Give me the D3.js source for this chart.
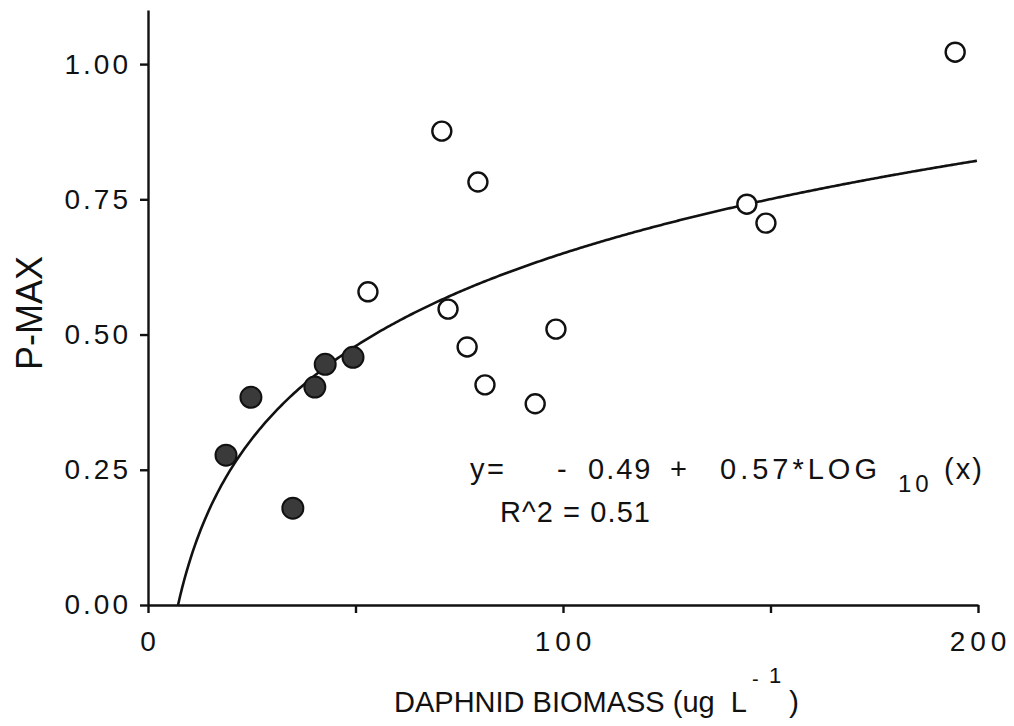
<!DOCTYPE html>
<html>
<head>
<meta charset="utf-8">
<script src="https://cdn.jsdelivr.net/npm/d3@7"></script>
<style>
  body { margin: 0; background: #fff; }
  svg { display: block; }
  text { font-family: "Liberation Sans", Arial, sans-serif; fill: #111; }
  .axis path, .axis line { stroke: #111; stroke-width: 2.4; }
  .axis text { font-size: 28px; }
</style>
</head>
<body>
<div id="viz"></div>
<script>
// Datos
let xCerrados = [18.8, 24.8, 34.9, 40.2, 42.7, 49.4];
let yCerrados = [0.277, 0.384, 0.179, 0.403, 0.445, 0.458];

let xAbiertos = [53.0, 70.8, 72.3, 79.5, 76.9, 81.2, 93.3, 98.3, 144.3, 148.9, 194.5];
let yAbiertos = [0.579, 0.876, 0.547, 0.782, 0.477, 0.407, 0.372, 0.510, 0.741, 0.706, 1.022];

// Coeficientes del ajuste mostrados en el gráfico
let intercepto = -0.49;
let pendiente = 0.57;

let ticksY = [0, 0.25, 0.5, 0.75, 1.0];
let ticksX = [0, 50, 100, 150, 200];
let etiquetasX = [0, 100, 200];

let w = 1014;
let h = 726;

let svg = d3.select('#viz')
    .append('svg')
        .attr('width', w)
        .attr('height', h);

let x = d3.scaleLinear().domain([0, 200]).range([148, 978]);
let y = d3.scaleLinear().domain([0, 1.1]).range([605, 10]);

// Eje Y
svg.append('g')
    .attr('class', 'axis')
    .attr('transform', 'translate(148,0)')
    .call(d3.axisLeft(y).tickValues(ticksY).tickFormat(d3.format('.2f')).tickSize(8).tickSizeOuter(0).tickPadding(9))
    .selectAll('text')
        .style('letter-spacing', '3px');

// Eje X
svg.append('g')
    .attr('class', 'axis')
    .attr('transform', 'translate(0,605)')
    .call(d3.axisBottom(x).tickValues(ticksX)
        .tickFormat(d => etiquetasX.includes(d) ? d : '')
        .tickSize(8).tickSizeOuter(0).tickPadding(18))
    .selectAll('text')
        .style('letter-spacing', '5px')
        .attr('dx', '2px');

// Curva de ajuste
let x0 = Math.pow(10, -intercepto / pendiente);
let xsCurva = d3.range(x0, 200.01, 0.5);
let linea = d3.line()
    .x(d => x(d))
    .y(d => y(intercepto + pendiente * Math.log10(d)));

svg.append('path')
    .datum(xsCurva)
    .attr('fill', 'none')
    .attr('stroke', '#111')
    .attr('stroke-width', 2.6)
    .attr('d', linea);

// Puntos abiertos
svg.selectAll('.abierto')
    .data(xAbiertos)
    .enter()
    .append('circle')
        .attr('class', 'abierto')
        .attr('cx', d => x(d))
        .attr('cy', (d, i) => y(yAbiertos[i]))
        .attr('r', 9.5)
        .attr('fill', '#fff')
        .attr('stroke', '#111')
        .attr('stroke-width', 2.4);

// Puntos cerrados
svg.selectAll('.cerrado')
    .data(xCerrados)
    .enter()
    .append('circle')
        .attr('class', 'cerrado')
        .attr('cx', d => x(d))
        .attr('cy', (d, i) => y(yCerrados[i]))
        .attr('r', 10.5)
        .attr('fill', '#3a3a3a')
        .attr('stroke', '#111')
        .attr('stroke-width', 2);

// Ecuación (trozos colocados como en el original)
let trozos = [
    ['y', 470, 0], ['=', 487, 0], ['-', 557, 0], ['0.49', 588, 0],
    ['+', 670, 0], ['0.57*LOG', 720, 0], ['10', 898, 13], ['(x)', 944, 0]
];
svg.selectAll('.eq')
    .data(trozos)
    .enter()
    .append('text')
        .attr('class', 'eq')
        .attr('x', d => d[1])
        .attr('y', d => 479 + d[2])
        .style('font-size', d => d[0] == '10' ? '24px' : '29px')
        .style('letter-spacing', d => d[0] == '0.57*LOG' || d[0] == '10' ? '4px' : '2px')
        .text(d => d[0]);

svg.append('text')
    .attr('x', 500)
    .attr('y', 522)
    .style('font-size', '29px')
    .attr('textLength', 150)
    .attr('lengthAdjust', 'spacing')
    .text('R^2 = 0.51');

// Títulos de ejes
svg.append('text')
    .attr('x', 394)
    .attr('y', 712)
    .style('font-size', '29px')
    .attr('xml:space', 'preserve')
    .text('DAPHNID BIOMASS (ug  L');
svg.append('text').attr('x', 752).attr('y', 686).style('font-size', '20px').text('-');
svg.append('text').attr('x', 769).attr('y', 683).style('font-size', '22px').text('1');
svg.append('text').attr('x', 789).attr('y', 712).style('font-size', '30px').text(')');

svg.append('text')
    .attr('transform', 'translate(42,313) rotate(-90)')
    .attr('text-anchor', 'middle')
    .style('font-size', '36px')
    .text('P-MAX');
</script>
</body>
</html>
